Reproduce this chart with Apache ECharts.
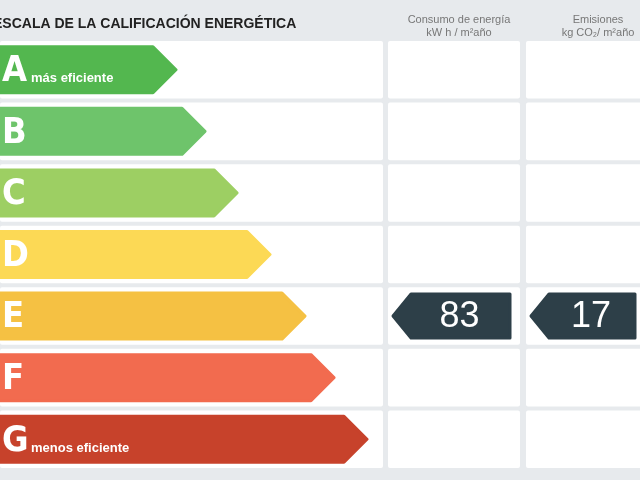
<!DOCTYPE html>
<html>
<head>
<meta charset="utf-8">
<script src="https://cdn.jsdelivr.net/npm/echarts@6/dist/echarts.min.js"></script>
<style>html,body{margin:0;padding:0;background:#e7eaed}#chart{width:640px;height:480px}</style>
</head>
<body>
<div id="chart"></div>
<script>
// rating classes and arrow tip positions (in px along x axis)
const grades = ['A', 'B', 'C', 'D', 'E', 'F', 'G'];
const arrowEnds = [176, 205, 237, 270, 305, 334, 367];
const gradeColors = ['#53b74f', '#6ec46b', '#9dcf63', '#fcd955', '#f5c143', '#f26b4f', '#c7422b'];
const gradeNotes = ['más eficiente', '', '', '', '', '', 'menos eficiente'];
// current rating
const currentGrade = 'E';
const energyValue = 83;
const emissionValue = 17;

const chart = echarts.init(document.getElementById('chart'));

// column cells: [x0, x1]
const cols = [[0, 383], [388, 520], [526, 645]];

function cellItem(params, api) {
  const cat = api.value(1);
  const y = api.coord([0, cat])[1];
  const h = api.size([0, 1])[1];
  return {
    type: 'group',
    children: cols.map(c => {
      const a = api.coord([c[0], cat])[0];
      const b = api.coord([c[1], cat])[0];
      return { type: 'rect', shape: { x: a, y: y - h / 2 + 2, width: b - a, height: h - 4, r: 2 }, style: { fill: '#ffffff' } };
    })
  };
}

function arrowItem(params, api) {
  const cat = api.value(1);
  const y = api.coord([0, cat])[1];
  const tip = api.coord([api.value(0), cat])[0];
  const x0 = api.coord([-10, cat])[0];
  const hh = 23;
  const i = params.dataIndex;
  return {
    type: 'group',
    children: [
      { type: 'polygon', shape: { points: [[x0, y - hh], [tip - hh, y - hh], [tip, y], [tip - hh, y + hh], [x0, y + hh]] },
        style: { fill: gradeColors[i], lineJoin: 'round', stroke: gradeColors[i], lineWidth: 3 } },
      { type: 'text', x: 2, y: y + 2, style: { text: grades[i], fill: '#fff', font: 'bold 36px "Liberation Sans Narrow", "DejaVu Sans Condensed", sans-serif', verticalAlign: 'middle' } },
      { type: 'text', x: 31, y: y + 9, style: { text: gradeNotes[i], fill: '#fff', font: 'bold 13px "Liberation Sans", sans-serif', verticalAlign: 'middle' } }
    ]
  };
}

function badgeItem(params, api) {
  const cat = api.value(1);
  const y = api.coord([0, cat])[1];
  const c = cols[api.value(2)];
  const a = api.coord([c[0] + 5, cat])[0];
  const b = api.coord([c[1] - 10, cat])[0];
  const hh = 22;
  return {
    type: 'group',
    children: [
      { type: 'polygon', shape: { points: [[a, y], [a + 18, y - hh], [b, y - hh], [b, y + hh], [a + 18, y + hh]] },
        style: { fill: '#2d3f48', stroke: '#2d3f48', lineWidth: 3, lineJoin: 'round' } },
      { type: 'text', x: (a + b) / 2 + 8, y: y + 1, style: { text: String(api.value(0)), fill: '#fff', font: '36px "Liberation Sans", sans-serif', align: 'center', verticalAlign: 'middle' } }
    ]
  };
}

chart.setOption({
  backgroundColor: '#e7eaed',
  animation: false,
  title: [
    { text: 'ESCALA DE LA CALIFICACIÓN ENERGÉTICA', left: -12, top: 12, textStyle: { fontSize: 14, fontWeight: 'bold', color: '#222', fontFamily: 'Liberation Sans' } },
    { text: 'Consumo de energía\nkW h / m²año', left: 454, top: 8, textAlign: 'center', textStyle: { fontSize: 11, fontWeight: 'normal', color: '#777', lineHeight: 13, fontFamily: 'Liberation Sans' } },
    { text: 'Emisiones\nkg CO₂/ m²año', left: 593, top: 8, textAlign: 'center', textStyle: { fontSize: 11, fontWeight: 'normal', color: '#777', lineHeight: 13, fontFamily: 'Liberation Sans' } }
  ],
  grid: { left: 0, right: 0, top: 39, bottom: 10 },
  xAxis: { type: 'value', min: 0, max: 640, show: false },
  yAxis: { type: 'category', data: grades, inverse: true, show: false },
  series: [
    { type: 'custom', renderItem: cellItem, encode: { x: 0, y: 1 }, data: grades.map(g => [0, g]), silent: true },
    { type: 'custom', renderItem: arrowItem, encode: { x: 0, y: 1 }, data: grades.map((g, i) => [arrowEnds[i], g]), silent: true },
    { type: 'custom', renderItem: badgeItem, encode: { x: 0, y: 1 }, data: [[energyValue, currentGrade, 1], [emissionValue, currentGrade, 2]], silent: true }
  ]
});
</script>
</body>
</html>
